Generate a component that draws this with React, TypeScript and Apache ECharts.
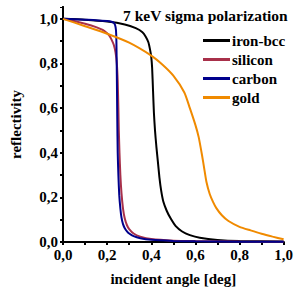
import React, { useEffect, useRef } from "react";
import * as echarts from "echarts";

const seriesNames = ["iron-bcc", "silicon", "carbon", "gold"];
const seriesColors = ["#000000", "#a8304a", "#00008c", "#f08a00"];

const ironBcc: number[][] = [
  [0, 1], [0.1, 0.996], [0.2, 0.988], [0.28, 0.975], [0.33, 0.958], [0.36, 0.94],
  [0.375, 0.92], [0.387, 0.895], [0.395, 0.86], [0.4, 0.83], [0.404, 0.78],
  [0.408, 0.68], [0.412, 0.58], [0.417, 0.5], [0.423, 0.43], [0.43, 0.36],
  [0.437, 0.29], [0.445, 0.23], [0.455, 0.18], [0.47, 0.14], [0.487, 0.107],
  [0.51, 0.072], [0.54, 0.047], [0.575, 0.031], [0.62, 0.019], [0.7, 0.009],
  [0.8, 0.004], [1, 0.002],
];
const silicon: number[][] = [
  [0, 1], [0.05, 0.99], [0.1, 0.978], [0.15, 0.963], [0.18, 0.95], [0.2, 0.935],
  [0.21, 0.925], [0.22, 0.907], [0.23, 0.884], [0.238, 0.85], [0.244, 0.8],
  [0.248, 0.72], [0.251, 0.6], [0.253, 0.5], [0.256, 0.4], [0.26, 0.3],
  [0.265, 0.22], [0.272, 0.15], [0.28, 0.105], [0.29, 0.075], [0.3, 0.058],
  [0.32, 0.038], [0.35, 0.024], [0.4, 0.013], [0.5, 0.006], [0.6, 0.004],
  [0.8, 0.002], [1, 0.001],
];
const carbon: number[][] = [
  [0, 1], [0.05, 0.998], [0.1, 0.996], [0.15, 0.994], [0.2, 0.99], [0.22, 0.987],
  [0.23, 0.982], [0.236, 0.972], [0.24, 0.95], [0.242, 0.9], [0.244, 0.75],
  [0.246, 0.55], [0.248, 0.4], [0.251, 0.3], [0.255, 0.21], [0.26, 0.15],
  [0.265, 0.11], [0.272, 0.08], [0.28, 0.062], [0.29, 0.048], [0.3, 0.038],
  [0.32, 0.026], [0.35, 0.017], [0.4, 0.01], [0.5, 0.005], [0.6, 0.003],
  [0.8, 0.0015], [1, 0.001],
];
const gold: number[][] = [
  [0, 1], [0.1, 0.967], [0.2, 0.933], [0.3, 0.893], [0.4, 0.835], [0.45, 0.795],
  [0.5, 0.745], [0.55, 0.67], [0.575, 0.6], [0.6, 0.525], [0.615, 0.47],
  [0.63, 0.39], [0.64, 0.33], [0.65, 0.27], [0.665, 0.215], [0.68, 0.18],
  [0.695, 0.152], [0.72, 0.12], [0.75, 0.094], [0.8, 0.068], [0.85, 0.052],
  [0.9, 0.037], [0.95, 0.024], [1, 0.012],
];
const seriesData = [ironBcc, silicon, carbon, gold];

const titleText = "7 keV sigma polarization";
const xAxisName = "incident angle [deg]";
const yAxisName = "reflectivity";

const FONT = "Liberation Serif";

const fmt = (v: number) => {
  const k = v * 5;
  if (Math.abs(k - Math.round(k)) > 1e-6) return "";
  return v.toFixed(1).replace(".", ",");
};

const txt = { fontFamily: FONT, fontSize: 15, fontWeight: "bold" as const, color: "#000" };

export default function App() {
  const ref = useRef<HTMLDivElement>(null);
  useEffect(() => {
    if (!ref.current) return;
    const chart = echarts.init(ref.current, null, { renderer: "svg" });
    const axisLine = { show: true, lineStyle: { color: "#000", width: 2 } };
    chart.setOption({
      animation: false,
      backgroundColor: "#fff",
      textStyle: { fontFamily: FONT },
      grid: { left: 63, right: 7, top: 7, bottom: 47, containLabel: false },
      title: {
        text: titleText,
        right: 8,
        top: 7,
        padding: 0,
        textStyle: { ...txt, fontSize: 15.5 },
      },
      legend: {
        data: seriesNames,
        orient: "vertical",
        left: 203,
        top: 33,
        itemWidth: 27,
        itemHeight: 3,
        itemGap: 4,
        icon: "rect",
        padding: 0,
        textStyle: { ...txt, padding: [0, 0, 0, -3] },
      },
      xAxis: [
        {
          type: "value",
          min: 0,
          max: 1,
          interval: 0.1,
          name: xAxisName,
          nameLocation: "middle",
          nameGap: 29,
          nameTextStyle: txt,
          axisLine,
          axisTick: { show: true, inside: false, length: 3, lineStyle: { color: "#000", width: 2 } },
          axisLabel: { ...txt, formatter: fmt, margin: 5 },
          splitLine: { show: false },
        },
        {
          type: "value",
          position: "top",
          min: 0,
          max: 1,
          interval: 0.1,
          axisLine,
          axisTick: { show: true, inside: true, length: 3, lineStyle: { color: "#000", width: 1 } },
          axisLabel: { show: false },
          splitLine: { show: false },
        },
      ],
      yAxis: [
        {
          type: "value",
          min: 0,
          max: 1.053,
          interval: 0.1,
          name: yAxisName,
          nameLocation: "middle",
          nameGap: 40,
          nameTextStyle: txt,
          axisLine,
          axisTick: { show: true, inside: false, length: 3, lineStyle: { color: "#000", width: 2 } },
          axisLabel: { ...txt, formatter: fmt, margin: 5, showMaxLabel: false },
          splitLine: { show: false },
        },
        {
          type: "value",
          position: "right",
          min: 0,
          max: 1.053,
          interval: 0.1,
          axisLine,
          axisTick: { show: true, inside: true, length: 3, lineStyle: { color: "#000", width: 1 } },
          axisLabel: { show: false },
          splitLine: { show: false },
        },
      ],
      series: seriesNames.map((name, i) => ({
        name,
        type: "line",
        xAxisIndex: 0,
        yAxisIndex: 0,
        data: seriesData[i],
        showSymbol: false,
        symbol: "none",
        smooth: 0.2,
        lineStyle: { color: seriesColors[i], width: 2 },
        itemStyle: { color: seriesColors[i] },
      })),
    });
    return () => chart.dispose();
  }, []);
  return <div ref={ref} style={{ width: 296, height: 291, position: "absolute", left: 0, top: 0 }} />;
}
